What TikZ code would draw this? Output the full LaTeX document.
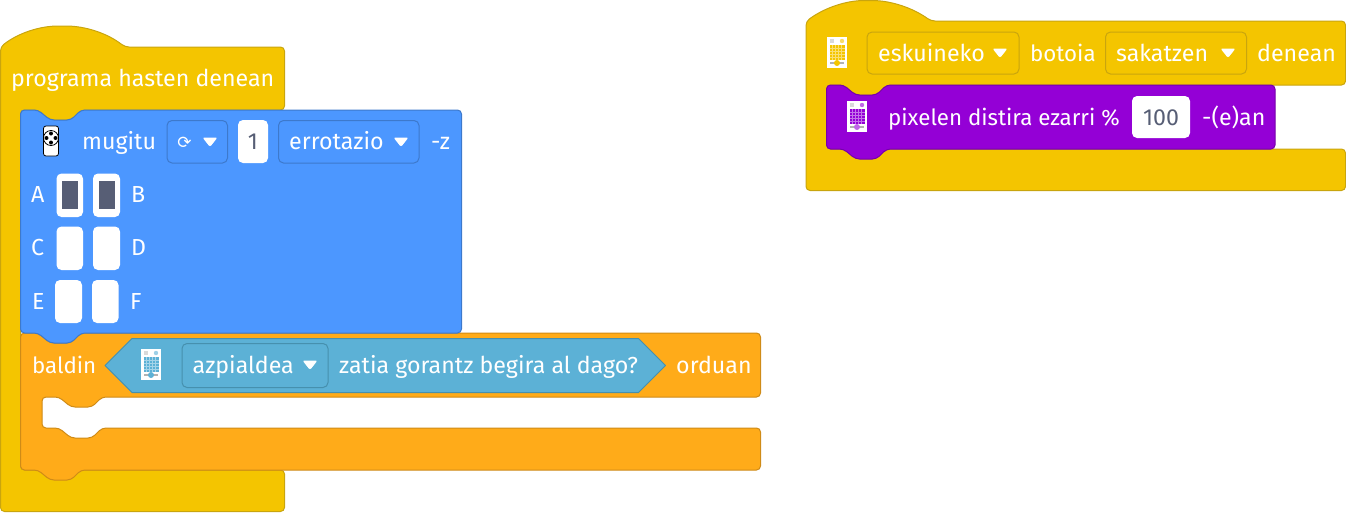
\documentclass[tikz,border=0pt]{standalone}
\usepackage{fontspec}
\setmainfont{Fira Sans}
\newfontfamily\symfont{DejaVu Sans}
\definecolor{hatfill}{HTML}{F4C500}
\definecolor{hatline}{HTML}{C9A50E}
\definecolor{motorfill}{HTML}{4C97FF}
\definecolor{motorline}{HTML}{3D79CC}
\definecolor{ctrlfill}{HTML}{FFAB19}
\definecolor{ctrlline}{HTML}{CF8B17}
\definecolor{lookfill}{HTML}{9400D6}
\definecolor{lookline}{HTML}{7600AB}
\definecolor{sensefill}{HTML}{5CB1D6}
\definecolor{senseline}{HTML}{4690AE}
\definecolor{inktext}{HTML}{575E75}
\tikzset{
  blockbody/.style={line width=1pt,rounded corners=4pt,line join=round},
  field/.style={line width=1pt,rounded corners=5pt},
  lbl/.style={anchor=base west,inner sep=0pt,text=white,font=\fontsize{23.2}{27}\selectfont},
  lblnarrow/.style={lbl,font=\fontsize{22.3}{27}\selectfont},
  inputlbl/.style={anchor=base,inner sep=0pt,text=inktext,font=\fontsize{23.2}{27}\selectfont},
}
% tab and notch, walked left to right or right to left
\newcommand{\tabright}{-- ++(12,10) -- ++(21,0) -- ++(10,-10)}
\newcommand{\tableft}{-- ++(-10,10) -- ++(-21,0) -- ++(-12,-10)}
\newcommand{\lbl}[4]{\node[lbl] (#1) at (#2,#3) {#4};}
\newcommand{\lblnarrow}[4]{\node[lblnarrow] (#1) at (#2,#3) {#4};}
\newcommand{\dropfield}[6]{\draw[field,fill=#1,draw=#2] (#3,#4) rectangle (#5,#6);}
\newcommand{\droparrow}[2]{\fill[white,rounded corners=2pt] (#1-7.5,#2-4.5) -- (#1+7.5,#2-4.5) -- (#1,#2+5) -- cycle;}
\newcommand{\pixicon}[4]{
  \begin{scope}[shift={(#1,#2)}]
    \fill[white] (0,0) rectangle (20,31);
    \fill[black!15] (3,2) rectangle (7,6);
    \fill[#3!60!white] (15,4) circle (2.2);
    \fill[#3] (2.5,8) rectangle (17.5,23);
    \foreach \k in {5.5,8.5,11.5,14.5} {\draw[#3!55!white,line width=0.35pt] (\k,8) -- (\k,23);}
    \foreach \k in {11,14,17,20} {\draw[#3!55!white,line width=0.35pt] (2.5,\k) -- (17.5,\k);}
    \fill[black!30] (3,25) rectangle (17,27);
    \fill[#4] (10,26) circle (3);
  \end{scope}
}
\begin{document}
\begin{tikzpicture}[x=1pt,y=-1pt]
  \useasboundingbox (0,0) rectangle (1346,512);
  % first stack
  \draw[blockbody,fill=hatfill,draw=hatline] (0.5,47) .. controls (18,33) and (40,26) .. (62,26)
    .. controls (85,26) and (107,33) .. (125,47) -- (284.5,47) -- (284.5,110) -- (81,110)
    \tableft -- (20.5,110) -- (20.5,470) -- (284.5,470) -- (284.5,511.5) -- (0.5,511.5) -- cycle;
  \draw[blockbody,fill=ctrlfill,draw=ctrlline] (20.5,333) -- (38,333) \tabright -- (760.5,333)
    -- (760.5,397) -- (102,397) \tableft -- (42,397) -- (42,428) -- (59,428) \tabright
    -- (760.5,428) -- (760.5,470) -- (81,470) \tableft -- (20.5,470) -- cycle;
  \draw[blockbody,fill=motorfill,draw=motorline] (20.5,110) -- (38,110) \tabright -- (461.5,110)
    -- (461.5,333) -- (81,333) \tableft -- (20.5,333) -- cycle;
  \lbl{start}{11}{86.5}{programa hasten denean}

  % motor block
  \draw[fill=white,draw=black,rounded corners=2.5pt,line width=0.8pt] (43.5,126) rectangle (58.5,156);
  \draw[black,line width=0.8pt] (51,138) circle (7.5);
  \fill[black] (51,133.5) circle (2) (51,142.5) circle (2) (46.5,138) circle (2) (55.5,138) circle (2);
  \lbl{move}{82}{149.5}{mugitu}
  \dropfield{motorfill}{motorline}{167}{120.5}{227.5}{163}
  \node[anchor=center,inner sep=0pt,text=white,font=\symfont\fontsize{17}{20}\selectfont] (turn) at (184.5,143) {⟳};
  \droparrow{210}{142}
  \fill[white,rounded corners=5pt] (238,120) rectangle (268,163);
  \node[inputlbl] (turns) at (253,149.5) {1};
  \dropfield{motorfill}{motorline}{278.5}{120.5}{419}{163}
  \lbl{unit}{289}{149.5}{errotazio}
  \droparrow{401}{142}
  \lbl{suffix}{431}{149.5}{-z}

  % motor ports
  \lbl{portA}{31}{202.5}{A}
  \lbl{portB}{131}{202.5}{B}
  \lbl{portC}{31}{255.5}{C}
  \lbl{portD}{131}{255.5}{D}
  \lbl{portE}{32}{309}{E}
  \lbl{portF}{130}{309}{F}
  \fill[white,rounded corners=5pt] (56.5,173.5) rectangle (83,217);
  \fill[white,rounded corners=5pt] (93,173.5) rectangle (120,217);
  \fill[white,rounded corners=5pt] (56.5,226.5) rectangle (83,270);
  \fill[white,rounded corners=5pt] (93,226.5) rectangle (120,270);
  \fill[white,rounded corners=5pt] (55,280) rectangle (82,323);
  \fill[white,rounded corners=5pt] (92,280) rectangle (118.5,323);
  \fill[inktext] (62,181) rectangle (78,209);
  \fill[inktext] (98.5,181) rectangle (114.5,209);

  % condition
  \lblnarrow{cond}{32}{373}{baldin}
  \draw[line width=1pt,line join=round,fill=sensefill,draw=senseline] (105,365.5) -- (132,338.5) -- (638.5,338.5)
    -- (665.5,365.5) -- (638.5,392.5) -- (132,392.5) -- cycle;
  \pixicon{141}{349}{sensefill}{sensefill}
  \dropfield{sensefill}{senseline}{182}{343.5}{328}{387.5}
  \lbl{side}{192.5}{373}{azpialdea}
  \droparrow{310}{365}
  \lbl{question}{339}{373}{zatia gorantz begira al dago?}
  \lbl{then}{676}{373}{orduan}

  % second stack
  \draw[blockbody,fill=hatfill,draw=hatline] (806,21.5) .. controls (824,8) and (846,0.5) .. (868,0.5)
    .. controls (891,0.5) and (913,8) .. (931,21) -- (1345.5,21) -- (1345.5,85) -- (886.5,85)
    \tableft -- (826.5,85) -- (826.5,149) -- (1345.5,149) -- (1345.5,190.5) -- (806,190.5) -- cycle;
  \draw[blockbody,fill=lookfill,draw=lookline] (826.5,85) -- (843.5,85) \tabright -- (1275,85)
    -- (1275,149) -- (886.5,149) \tableft -- (826.5,149) -- cycle;
  \pixicon{827}{37}{hatfill}{hatfill}
  \dropfield{hatfill}{hatline}{867}{32}{1019}{74}
  \lbl{button}{878}{61}{eskuineko}
  \droparrow{1000}{53}
  \lblnarrow{knob}{1030}{61}{botoia}
  \dropfield{hatfill}{hatline}{1105.5}{32}{1246.5}{74}
  \lbl{press}{1116}{61}{sakatzen}
  \droparrow{1228}{53}
  \lbl{when}{1257}{61}{denean}
  \pixicon{847}{101}{lookfill}{lookfill!60!white}
  \lblnarrow{bright}{888}{125}{pixelen distira ezarri \%}
  \fill[white,rounded corners=5pt] (1132,96) rectangle (1190,138);
  \node[inputlbl] (level) at (1161,125) {100};
  \lbl{percent}{1202}{125}{-(e)an}
\end{tikzpicture}
\end{document}
